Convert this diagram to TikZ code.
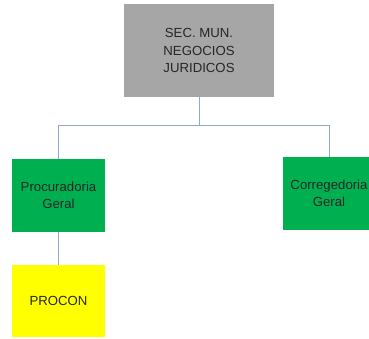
\documentclass[tikz,border=0pt]{standalone}
\usepackage{fontspec}
\setmainfont{Liberation Sans}
\usetikzlibrary{positioning}

\definecolor{boxgray}{HTML}{A6A6A6}
\definecolor{boxgreen}{HTML}{00B050}
\definecolor{boxyellow}{HTML}{FFFF00}
\definecolor{linkblue}{HTML}{8FAAC2}
\definecolor{txtgray}{HTML}{262626}

\begin{document}
\begin{tikzpicture}[x=1pt,y=-1pt,
    orgbox/.style={inner sep=0pt,align=center,text=txtgray,
      font=\fontsize{13.2}{17.5}\selectfont,minimum width=93pt,minimum height=73pt},
    link/.style={draw=linkblue,line width=0.9pt}]
  \useasboundingbox (0,0) rectangle (369,338);
  \clip (0,0) rectangle (369,338);
  % caixa superior
  \node[orgbox,fill=boxgray,minimum width=150pt,minimum height=93pt] (sec) at (199,50.5)
    {SEC. MUN.\\NEGOCIOS\\JURIDICOS};
  % caixas do segundo nivel
  \node[orgbox,fill=boxgreen] (proc) at (58.5,195.5) {Procuradoria\\Geral};
  \node[orgbox,fill=boxgreen] (corr) at (329,193.5) {Corregedoria\\Geral};
  % caixa do terceiro nivel
  \node[orgbox,fill=boxyellow,minimum height=72pt] (procon) at (58.5,301) {PROCON};
  % ligacoes
  \coordinate (bus) at (199,125);
  \draw[link] (sec) -- (bus);
  \draw[link] (bus) -| (proc);
  \draw[link] (bus) -| (corr);
  \draw[link] (proc) -- (procon);
\end{tikzpicture}
\end{document}
